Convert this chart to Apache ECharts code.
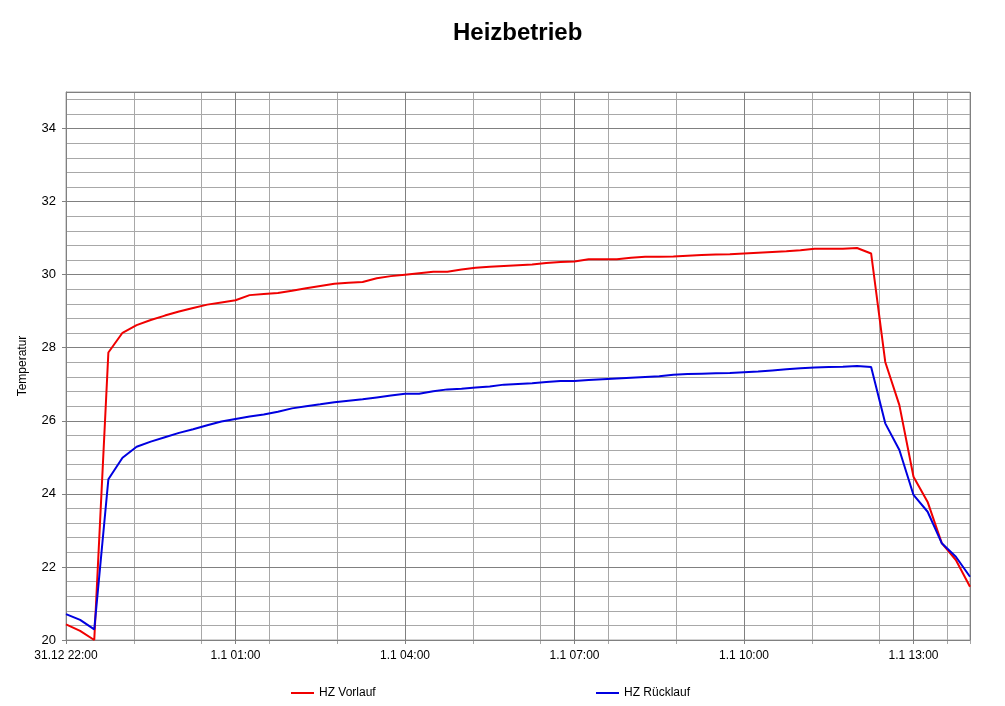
<!DOCTYPE html>
<html>
<head>
<meta charset="utf-8">
<script src="https://cdn.jsdelivr.net/npm/echarts@6/dist/echarts.min.js"></script>
<style>
html,body{margin:0;padding:0;background:#fff;}
#chart{width:1005px;height:706px;}
</style>
</head>
<body>
<div id="chart"></div>
<script>
const titleText = 'Heizbetrieb';
const yAxisName = 'Temperatur';
const seriesNames = ['HZ Vorlauf', 'HZ Rücklauf'];
const times = ['22:00','22:15','22:30','22:45','23:00','23:15','23:30','23:45',
  '00:00','00:15','00:30','00:45','01:00','01:15','01:30','01:45',
  '02:00','02:15','02:30','02:45','03:00','03:15','03:30','03:45',
  '04:00','04:15','04:30','04:45','05:00','05:15','05:30','05:45',
  '06:00','06:15','06:30','06:45','07:00','07:15','07:30','07:45',
  '08:00','08:15','08:30','08:45','09:00','09:15','09:30','09:45',
  '10:00','10:15','10:30','10:45','11:00','11:15','11:30','11:45',
  '12:00','12:15','12:30','12:45','13:00','13:15','13:30','13:45','14:00'];
const vorlauf = [20.43,20.25,20.0,27.87,28.41,28.62,28.76,28.88,
  28.99,29.09,29.18,29.24,29.30,29.44,29.47,29.50,
  29.56,29.63,29.69,29.75,29.78,29.80,29.90,29.96,
  30.00,30.04,30.08,30.08,30.14,30.19,30.22,30.24,
  30.26,30.28,30.32,30.35,30.36,30.42,30.42,30.42,
  30.46,30.49,30.49,30.50,30.52,30.54,30.55,30.56,
  30.58,30.60,30.62,30.64,30.67,30.71,30.71,30.71,
  30.73,30.58,27.61,26.43,24.47,23.78,22.65,22.19,21.46];
const ruecklauf = [20.71,20.55,20.29,24.40,24.99,25.29,25.43,25.55,
  25.67,25.77,25.88,25.98,26.05,26.12,26.17,26.25,
  26.34,26.40,26.45,26.51,26.55,26.59,26.64,26.69,
  26.74,26.74,26.81,26.86,26.88,26.91,26.94,26.99,
  27.01,27.03,27.06,27.09,27.09,27.12,27.14,27.16,
  27.18,27.20,27.22,27.26,27.28,27.29,27.30,27.31,
  27.33,27.35,27.38,27.41,27.44,27.46,27.47,27.48,
  27.50,27.47,25.93,25.20,23.97,23.51,22.65,22.28,21.73];

// hours since 31.12 22:00
function hoursOf(t) {
  const [h, m] = t.split(':').map(Number);
  return (h >= 22 ? h - 22 : h + 2) + m / 60;
}
function labelOf(v) {
  const total = 22 + v;
  const h = Math.round(total) % 24;
  const hh = (h < 10 ? '0' : '') + h + ':00';
  return (total < 24 ? '31.12 ' : '1.1 ') + hh;
}
const xs = times.map(hoursOf);
const vData = xs.map((x, i) => [x, vorlauf[i]]);
const rData = xs.map((x, i) => [x, ruecklauf[i]]);

const font = 'Liberation Sans, Arial, sans-serif';
const majorColor = '#808080';
const minorColor = '#a8a8a8';

const chart = echarts.init(document.getElementById('chart'), null, {renderer: 'canvas'});
chart.setOption({
  animation: false,
  backgroundColor: '#fff',
  title: {
    text: titleText,
    left: 448, top: 16,
    textStyle: {fontFamily: font, fontSize: 24, fontWeight: 'bold', color: '#000'}
  },
  legend: [
    {data: [seriesNames[0]], left: 286, top: 682, itemWidth: 23, itemHeight: 2, icon: 'rect',
     itemGap: 4, textStyle: {fontFamily: font, fontSize: 12, color: '#000'}},
    {data: [seriesNames[1]], left: 591, top: 682, itemWidth: 23, itemHeight: 2, icon: 'rect',
     itemGap: 4, textStyle: {fontFamily: font, fontSize: 12, color: '#000'}}
  ],
  grid: {left: 66, right: 35, top: 92, bottom: 66, show: true, borderColor: minorColor, borderWidth: 1},
  xAxis: [
    {type: 'value', min: 0, max: 16, interval: 3, z: 1,
     axisLine: {show: true, onZero: false, lineStyle: {color: majorColor}},
     axisTick: {show: true, length: 4, lineStyle: {color: majorColor}},
     axisLabel: {formatter: labelOf, showMaxLabel: false, fontFamily: font, fontSize: 12, color: '#000', margin: 10},
     splitLine: {show: true, lineStyle: {color: majorColor, width: 1}}},
    {type: 'value', min: 0, max: 16, interval: 1.2, z: 0, position: 'bottom',
     axisLine: {show: false},
     axisTick: {show: true, length: 4, lineStyle: {color: minorColor}},
     axisLabel: {show: false},
     splitLine: {show: true, lineStyle: {color: minorColor, width: 1}}}
  ],
  yAxis: [
    {type: 'value', min: 20, max: 35, interval: 2, z: 1,
     name: yAxisName, nameLocation: 'middle', nameGap: 37,
     nameTextStyle: {fontFamily: font, fontSize: 12, color: '#000'},
     axisLine: {show: true, lineStyle: {color: majorColor}},
     axisTick: {show: true, length: 4, lineStyle: {color: majorColor}},
     axisLabel: {showMaxLabel: false, fontFamily: font, fontSize: 13, color: '#000', margin: 10},
     splitLine: {show: true, lineStyle: {color: majorColor, width: 1}}},
    {type: 'value', min: 20, max: 35, interval: 0.4, z: 0, position: 'left',
     axisLine: {show: false}, axisTick: {show: false}, axisLabel: {show: false},
     splitLine: {show: true, lineStyle: {color: minorColor, width: 1}}}
  ],
  series: [
    {name: seriesNames[0], type: 'line', data: vData, xAxisIndex: 0, yAxisIndex: 0,
     showSymbol: false, symbol: 'none', z: 3,
     lineStyle: {color: '#f00000', width: 2}, itemStyle: {color: '#f00000'}},
    {name: seriesNames[1], type: 'line', data: rData, xAxisIndex: 0, yAxisIndex: 0,
     showSymbol: false, symbol: 'none', z: 3,
     lineStyle: {color: '#0000e0', width: 2}, itemStyle: {color: '#0000e0'}}
  ]
});
</script>
</body>
</html>
